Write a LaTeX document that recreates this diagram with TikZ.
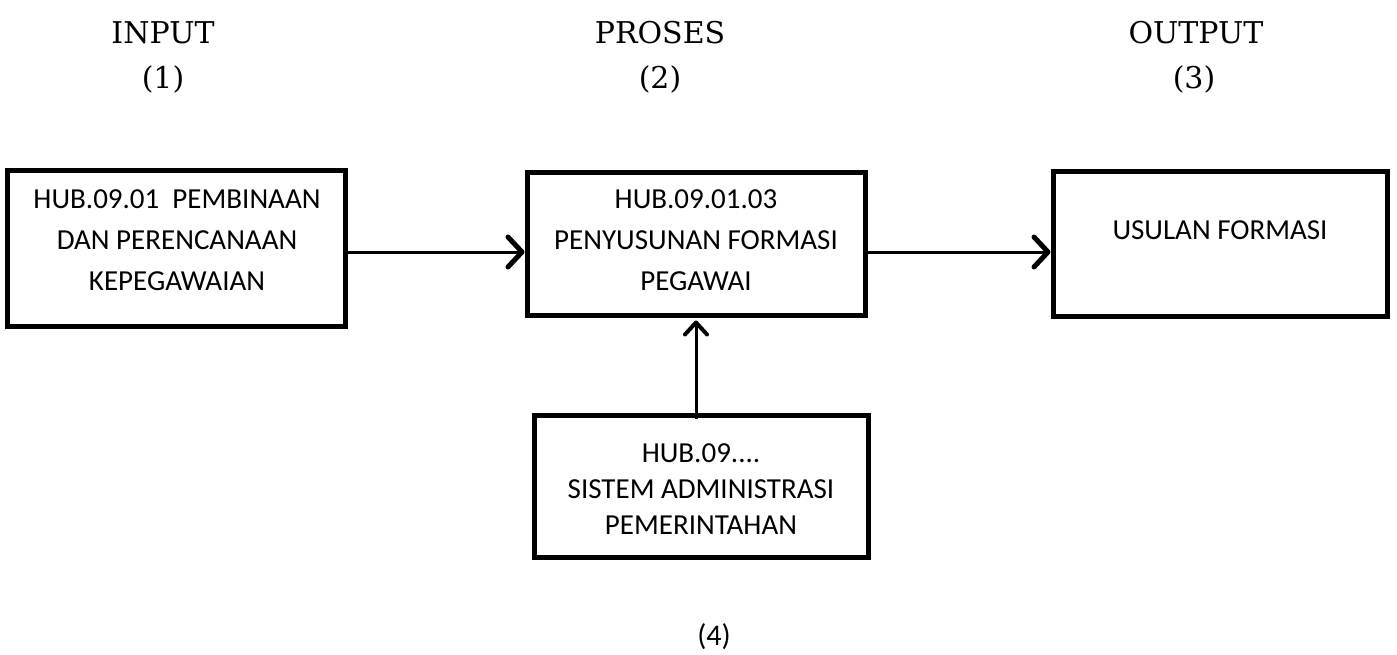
\documentclass[tikz,border=0pt]{standalone}
\usepackage{fontspec}
\setmainfont{Carlito}
\newfontfamily\hdfont{DejaVu Serif}
\usetikzlibrary{arrows.meta}
\begin{document}
\begin{tikzpicture}[x=1pt,y=-1pt,
  box/.style={draw, line width=5pt, inner sep=0pt},
  txt/.style={align=center, inner sep=0pt, font=\fontsize{29}{41}\selectfont},
  txtb/.style={align=center, inner sep=0pt, font=\fontsize{29}{36}\selectfont},
  hd/.style={inner sep=0pt, font=\hdfont\fontsize{30}{36}\selectfont},
  arr/.style={line width=3pt, -{Straight Barb[length=14pt,width=30pt,line width=5pt,round]}},
  varr/.style={line width=3pt, -{Straight Barb[length=12pt,width=22pt,line width=4pt,round]}}]
\useasboundingbox (0,0) rectangle (1397,655);
% headers
\node[hd] (h1) at (163,33) {INPUT};
\node[hd] (n1) at (163,79) {(1)};
\node[hd] (h2) at (660,33) {PROSES};
\node[hd] (n2) at (660,79) {(2)};
\node[hd] (h3) at (1196,33) {OUTPUT};
\node[hd] (n3) at (1194,79) {(3)};
% boxes
\node[box, minimum width=338pt, minimum height=155pt] (b1) at (176,248.5) {};
\node[box, minimum width=338pt, minimum height=142pt] (b2) at (696,244) {};
\node[box, minimum width=334pt, minimum height=144pt] (b3) at (1220,244) {};
\node[box, minimum width=334pt, minimum height=142pt] (b4) at (701,486) {};
% texts
\node[txt] (t1) at (177,240) {HUB.09.01\ \ PEMBINAAN\\DAN PERENCANAAN\\KEPEGAWAIAN};
\node[txt] (t2) at (696,240) {HUB.09.01.03\\PENYUSUNAN FORMASI\\PEGAWAI};
\node[txt] (t3) at (1220,230) {USULAN FORMASI};
\node[txtb] (t4) at (701,489) {HUB.09....\\SISTEM ADMINISTRASI\\PEMERINTAHAN};
\node[inner sep=0pt, font=\fontsize{30}{36}\selectfont] (n4) at (714,637) {(4)};
% connectors
\coordinate (lvl) at (0,252);
\draw[arr] (b1.east |- lvl) -- (b2.west |- lvl);
\draw[arr] (b2.east |- lvl) -- (b3.west |- lvl);
\draw[varr] ([yshift=-6pt]b4.north -| b2.south) -- ([yshift=-3pt]b2.south);
\end{tikzpicture}
\end{document}
